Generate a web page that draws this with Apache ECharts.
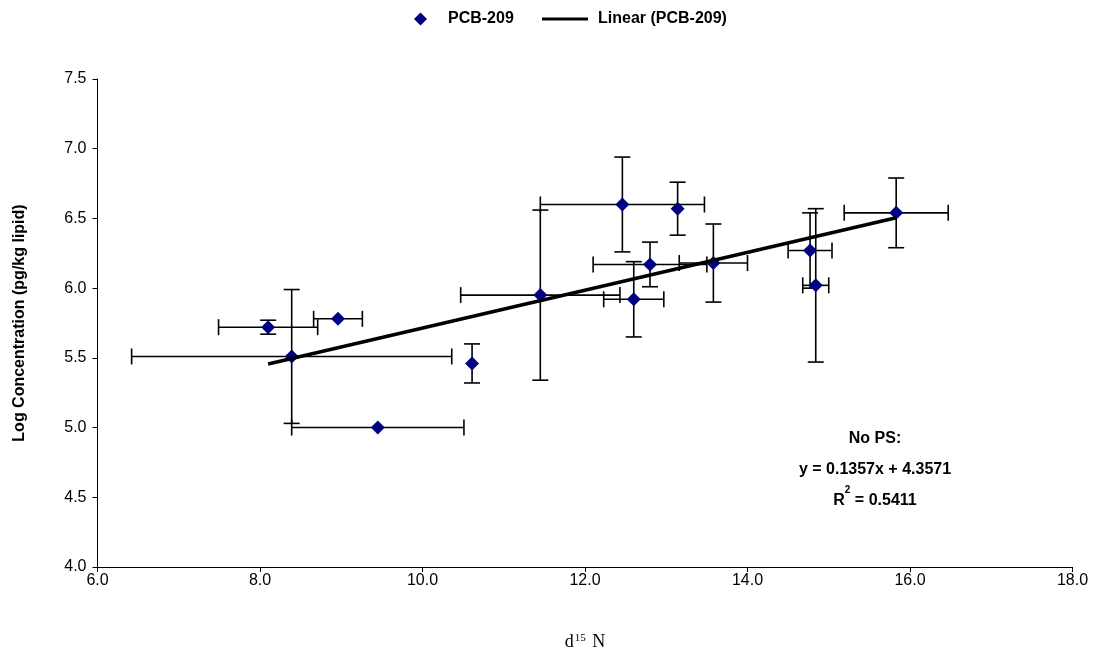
<!DOCTYPE html>
<html>
<head>
<meta charset="utf-8">
<script src="https://cdn.jsdelivr.net/npm/echarts@6/dist/echarts.min.js"></script>
<style>
  html, body { margin: 0; padding: 0; background: #ffffff; }
  #chart { width: 1102px; height: 650px; }
</style>
</head>
<body>
<div id="chart"></div>
<script>
// PCB-209 samples: d15N vs log concentration, with error half-widths
var d15N      = [8.10, 8.96, 8.39, 9.45, 10.61, 11.45, 12.46, 13.14, 12.80, 12.60, 13.58, 14.77, 14.84, 15.83];
var logConc   = [5.72, 5.78, 5.51, 5.00, 5.46, 5.95, 6.60, 6.57, 6.17, 5.92, 6.18, 6.27, 6.02, 6.54];
var d15NErr   = [0.61, 0.30, 1.97, 1.06, 0.00, 0.98, 1.01, 0.00, 0.70, 0.37, 0.42, 0.27, 0.16, 0.64];
var logErr    = [0.05, 0.00, 0.48, 0.00, 0.14, 0.61, 0.34, 0.19, 0.16, 0.27, 0.28, 0.27, 0.55, 0.25];

// Linear fit as reported in the annotation
var fitSlope = 0.1357;
var fitIntercept = 4.3571;
var fitR2 = 0.5411;

// Axis tick settings
var xTicks = { min: 6, max: 18, step: 2 };
var yTicks = { min: 4, max: 7.5, step: 0.5 };

var points = d15N.map(function (x, i) { return [x, logConc[i]]; });
var errData = d15N.map(function (x, i) { return [x, logConc[i], d15NErr[i], logErr[i]]; });
var xLo = Math.min.apply(null, d15N), xHi = Math.max.apply(null, d15N);
var fitLine = [[xLo, fitSlope * xLo + fitIntercept], [xHi, fitSlope * xHi + fitIntercept]];

var SANS = '"Liberation Sans", Arial, sans-serif';
var SERIF = '"Liberation Serif", "Times New Roman", serif';

function renderErrorBars(params, api) {
  var x = api.value(0), y = api.value(1), ex = api.value(2), ey = api.value(3);
  var cap = 8;
  var style = { stroke: '#000', lineWidth: 1.6 };
  var kids = [];
  function seg(x1, y1, x2, y2) {
    kids.push({ type: 'line', shape: { x1: x1, y1: y1, x2: x2, y2: y2 }, style: style });
  }
  if (ex > 0) {
    var l = api.coord([x - ex, y]), r = api.coord([x + ex, y]);
    seg(l[0], l[1], r[0], r[1]);
    seg(l[0], l[1] - cap, l[0], l[1] + cap);
    seg(r[0], r[1] - cap, r[0], r[1] + cap);
  }
  if (ey > 0) {
    var t = api.coord([x, y + ey]), b = api.coord([x, y - ey]);
    seg(t[0], t[1], b[0], b[1]);
    seg(t[0] - cap, t[1], t[0] + cap, t[1]);
    seg(b[0] - cap, b[1], b[0] + cap, b[1]);
  }
  return { type: 'group', children: kids };
}

var chart = echarts.init(document.getElementById('chart'), null, { renderer: 'canvas' });

var legendText = { fontFamily: SANS, fontSize: 16, fontWeight: 'bold', color: '#000' };

chart.setOption({
  animation: false,
  backgroundColor: '#ffffff',
  grid: { left: 97.5, right: 29.5, top: 79, bottom: 83, containLabel: false, outerBoundsMode: 'none' },
  legend: [
    {
      data: [{ name: 'PCB-209', icon: 'diamond', itemStyle: { color: '#000080', opacity: 1 } }],
      left: 409, top: 6, itemWidth: 13, itemHeight: 13,
      textStyle: Object.assign({ padding: [0, 0, 0, 16] }, legendText),
      selectedMode: false
    },
    {
      data: [{ name: 'Linear (PCB-209)', icon: 'rect' }],
      left: 537, top: 6, itemWidth: 46, itemHeight: 3,
      textStyle: Object.assign({ padding: [0, 0, 0, 5] }, legendText),
      selectedMode: false
    }
  ],
  xAxis: {
    type: 'value',
    min: xTicks.min, max: xTicks.max, interval: xTicks.step,
    name: '{d|d}{s|15}{d| N}',
    nameLocation: 'middle', nameGap: 66,
    nameTextStyle: {
      rich: {
        d: { fontFamily: SERIF, fontSize: 18, color: '#000' },
        s: { fontFamily: SERIF, fontSize: 11, color: '#000', verticalAlign: 'top', padding: [0, 2, 8, 1] }
      }
    },
    axisLine: { show: true, onZero: false, lineStyle: { color: '#000', width: 1 } },
    axisTick: { show: true, inside: false, length: 5, lineStyle: { color: '#000' } },
    axisLabel: {
      margin: 6, color: '#000', fontFamily: SANS, fontSize: 16,
      formatter: function (v) { return v.toFixed(1); }
    },
    splitLine: { show: false }
  },
  yAxis: {
    type: 'value',
    min: yTicks.min, max: yTicks.max, interval: yTicks.step,
    name: 'Log Concentration (pg/kg lipid)',
    nameLocation: 'middle', nameGap: 70, nameRotate: 90,
    nameTextStyle: { fontFamily: SANS, fontSize: 16, fontWeight: 'bold', color: '#000' },
    axisLine: { show: true, onZero: false, lineStyle: { color: '#000', width: 1 } },
    axisTick: { show: true, inside: false, length: 5, lineStyle: { color: '#000' } },
    axisLabel: {
      margin: 11, color: '#000', fontFamily: SANS, fontSize: 16,
      formatter: function (v) { return v.toFixed(1); }
    },
    splitLine: { show: false }
  },
  series: [
    {
      name: 'errors',
      type: 'custom',
      data: errData,
      encode: { x: 0, y: 1 },
      renderItem: renderErrorBars,
      clip: false,
      silent: true,
      z: 2
    },
    {
      name: 'PCB-209',
      type: 'scatter',
      data: points,
      symbol: 'diamond',
      symbolSize: 14,
      itemStyle: { color: '#000080', opacity: 1 },
      z: 3
    },
    {
      name: 'Linear (PCB-209)',
      type: 'line',
      data: fitLine,
      showSymbol: false,
      symbol: 'none',
      lineStyle: { color: '#000', width: 3.5 },
      itemStyle: { color: '#000' },
      z: 4
    }
  ],
  graphic: [
    {
      type: 'text',
      x: 875, y: 423,
      style: {
        text: 'No PS:\n{n|y = ' + fitSlope + 'x + ' + fitIntercept + '}\n{n|R}{sup|2}{n| = ' + fitR2 + '}',
        align: 'center', verticalAlign: 'top',
        fontFamily: SANS, fontSize: 16, fontWeight: 'bold', fill: '#000',
        lineHeight: 31,
        rich: {
          n: { fontFamily: SANS, fontSize: 16, fontWeight: 'bold', lineHeight: 31 },
          sup: { fontFamily: SANS, fontSize: 10, fontWeight: 'bold', verticalAlign: 'top', lineHeight: 31, padding: [0, 0, 2, 0] }
        }
      }
    }
  ]
});
</script>
</body>
</html>
